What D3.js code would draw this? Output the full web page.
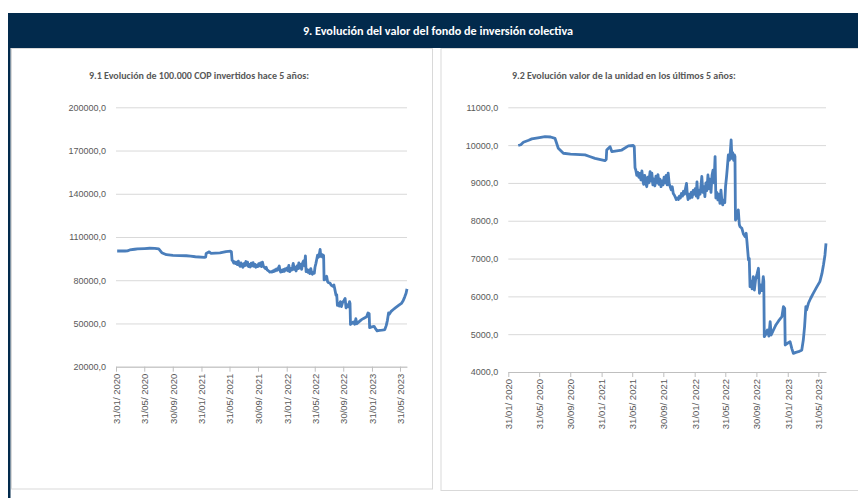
<!DOCTYPE html>
<html>
<head>
<meta charset="utf-8">
<script src="https://cdn.jsdelivr.net/npm/d3@7"></script>
<style>
  body { margin: 0; background: #fff; }
  svg { display: block; font-family: Carlito, Lato, "Open Sans", sans-serif; }
</style>
</head>
<body>
<svg id="lienzo" width="858" height="498"></svg>
<script>
// fechas de corte (comunes a las dos gráficas)
const fechas = [
    // 2020 - mayo 2021
    "2020-02-05", "2020-02-20", "2020-03-10", "2020-03-20", "2020-03-30", "2020-04-20", "2020-05-02", "2020-06-01",
    "2020-06-23", "2020-07-15", "2020-08-01", "2020-08-14", "2020-09-03", "2020-10-01", "2020-11-27", "2020-12-15",
    "2021-01-05", "2021-02-13", "2021-02-18", "2021-02-20", "2021-03-05", "2021-03-12", "2021-04-20", "2021-05-16",
    "2021-06-04", "2021-06-08",
    // junio 2021 - julio 2022
    "2021-06-11", "2021-06-14", "2021-06-18", "2021-06-22", "2021-06-26", "2021-06-30", "2021-07-04", "2021-07-08",
    "2021-07-12", "2021-07-15", "2021-07-19", "2021-07-23", "2021-07-27", "2021-07-31", "2021-08-04", "2021-08-09",
    "2021-08-13", "2021-08-16", "2021-08-20", "2021-08-24", "2021-08-28", "2021-09-01", "2021-09-05", "2021-09-09",
    "2021-09-13", "2021-09-17", "2021-09-21", "2021-09-25", "2021-09-29", "2021-10-03", "2021-10-07", "2021-10-11",
    "2021-10-15", "2021-10-19", "2021-10-23", "2021-10-27", "2021-10-31", "2021-11-04", "2021-11-08", "2021-11-12",
    "2021-11-16", "2021-11-20", "2021-11-24", "2021-11-28", "2021-12-02", "2021-12-06", "2021-12-10", "2021-12-14",
    "2021-12-18", "2021-12-22", "2021-12-26", "2021-12-30", "2022-01-02", "2022-01-05", "2022-01-09", "2022-01-13",
    "2022-01-17", "2022-01-21", "2022-01-25", "2022-01-29", "2022-02-02", "2022-02-06", "2022-02-09", "2022-02-13",
    "2022-02-17", "2022-02-21", "2022-02-25", "2022-02-28", "2022-03-04", "2022-03-08", "2022-03-12", "2022-03-16",
    "2022-03-20", "2022-03-24", "2022-03-28", "2022-04-01", "2022-04-05", "2022-04-09", "2022-04-13", "2022-04-17",
    "2022-04-21", "2022-04-24", "2022-04-28", "2022-05-02", "2022-05-06", "2022-05-10", "2022-05-14", "2022-05-18",
    "2022-05-21", "2022-05-25", "2022-05-29", "2022-06-01", "2022-06-05", "2022-06-08", "2022-06-12", "2022-06-16",
    "2022-06-19", "2022-06-23", "2022-06-26", "2022-06-29", "2022-07-03", "2022-07-06", "2022-07-08",
    // julio 2022 - junio 2023
    "2022-07-10", "2022-07-17", "2022-07-21", "2022-07-25", "2022-07-28", "2022-08-04", "2022-08-10", "2022-08-17",
    "2022-08-21", "2022-08-24", "2022-08-30", "2022-09-02", "2022-09-05", "2022-09-09", "2022-09-13", "2022-09-18",
    "2022-09-22", "2022-09-27", "2022-10-03", "2022-10-08", "2022-10-12", "2022-10-17", "2022-10-22", "2022-10-27",
    "2022-10-29", "2022-10-31", "2022-11-06", "2022-11-12", "2022-11-18", "2022-11-23", "2022-11-27", "2022-12-06",
    "2022-12-16", "2022-12-26", "2023-01-08", "2023-01-14", "2023-01-19", "2023-01-21", "2023-01-30", "2023-02-09",
    "2023-02-16", "2023-02-22", "2023-03-04", "2023-03-14", "2023-03-22", "2023-03-27", "2023-04-02", "2023-04-07",
    "2023-04-12", "2023-04-15", "2023-04-22", "2023-05-01", "2023-05-11", "2023-05-25", "2023-06-06", "2023-06-14",
    "2023-06-20", "2023-06-26", "2023-06-30"
];

// 9.1 evolución de 100.000 COP
const valorInversion = [
    100300, 100300, 100300, 100400, 101000, 101500, 101800, 102000,
    102200, 102100, 101700, 99100, 97700, 97300, 97000, 96700,
    96300, 95900, 96000, 98600, 99700, 98700, 99000, 99900,
    100200, 99800,

    94000, 93400, 92000, 92800, 91500, 92500, 90800, 93200,
    90500, 89600, 92000, 90000, 89000, 91500, 90000, 93000,
    90500, 92600, 89500, 91000, 89200, 91800, 90000, 92200,
    89600, 91000, 89000, 90500, 89500, 91500, 90000, 92000,
    89500, 92600, 89800, 89000, 88200, 89000, 87200, 86800,
    86200, 85600, 86000, 85600, 86500, 86000, 87200, 86500,
    87800, 87000, 88500, 89900, 87000, 85600, 87000, 86000,
    87500, 86200, 88000, 87000, 88500, 86500, 90300, 86000,
    88000, 87000, 89500, 91700, 87500, 89000, 86400, 90000,
    88000, 92100, 88500, 91000, 87500, 92000, 93400, 90000,
    96900, 86000, 87500, 85500, 87000, 84600, 88100, 85000,
    84200, 85500, 84800, 89000, 91700, 94000, 97400, 96000,
    97500, 101400, 96500, 98000, 96000, 97400, 97000,

    80200, 81000, 82800, 79000, 78400, 78000, 76500, 75800,
    76700, 74500, 69600, 70000, 62600, 64000, 62000, 65200,
    61700, 64500, 66000, 67400, 60800, 63000, 61500, 65200,
    64000, 49300, 50000, 51100, 49500, 53300, 49800, 51100,
    52500, 53500, 54600, 57300, 56800, 47100, 47600, 48000,
    46200, 44900, 45200, 45400, 45600, 45800, 48500, 52000,
    57300, 56400, 58200, 59500, 60800, 62500, 63900, 66000,
    68300, 71000, 74000
];

// 9.2 valor de la unidad
const valorUnidad = [
    null, null, 9990, 10010, 10075, 10130, 10165, 10200,
    10225, 10215, 10180, 9917, 9785, 9760, 9740, 9700,
    9650, 9590, 9620, 9870, 9960, 9830, 9870, 9980,
    9990, 9960,

    9400, 9343, 9200, 9280, 9150, 9250, 9080, 9320,
    9050, 8960, 9200, 9000, 8900, 9150, 9000, 9300,
    9050, 9260, 8950, 9100, 8920, 9180, 9000, 9220,
    8960, 9100, 8900, 9050, 8950, 9150, 9000, 9200,
    8950, 9260, 8980, 8900, 8820, 8900, 8720, 8680,
    8620, 8560, 8600, 8560, 8650, 8600, 8720, 8650,
    8780, 8700, 8850, 8990, 8700, 8560, 8700, 8600,
    8750, 8620, 8800, 8700, 8850, 8650, 9030, 8600,
    8800, 8700, 8950, 9170, 8750, 8900, 8640, 9000,
    8800, 9210, 8850, 9100, 8750, 9200, 9340, 9000,
    9695, 8600, 8750, 8550, 8700, 8460, 8810, 8500,
    8420, 8550, 8480, 8900, 9170, 9400, 9740, 9600,
    9750, 10136, 9650, 9800, 9600, 9740, 9700,

    8020, 8100, 8285, 7900, 7843, 7800, 7650, 7579,
    7668, 7450, 6962, 7000, 6256, 6400, 6200, 6521,
    6169, 6450, 6600, 6743, 6081, 6300, 6150, 6521,
    6400, 4934, 5000, 5111, 4950, 5330, 4979, 5111,
    5250, 5350, 5463, 5727, 5684, 4714, 4760, 4802,
    4620, 4493, 4520, 4537, 4560, 4582, 4846, 5200,
    5727, 5640, 5817, 5950, 6081, 6250, 6389, 6600,
    6830, 7095, 7404
];

const fechasEje = ["2020-01-31", "2020-05-31", "2020-09-30", "2021-01-31", "2021-05-31", "2021-09-30",
    "2022-01-31", "2022-05-31", "2022-09-30", "2023-01-31", "2023-05-31"];
const etiquetasEje = ["31/01/ 2020", "31/05/ 2020", "30/09/ 2020", "31/01/ 2021", "31/05/ 2021", "30/09/ 2021",
    "31/01/ 2022", "31/05/ 2022", "30/09/ 2022", "31/01/ 2023", "31/05/ 2023"];
const ticksInversion = [20000, 50000, 80000, 110000, 140000, 170000, 200000];
const ticksUnidad = [4000, 5000, 6000, 7000, 8000, 9000, 10000, 11000];

const parse = d3.timeParse("%Y-%m-%d");
const es = d3.formatLocale({ decimal: ",", thousands: ".", grouping: [3], currency: ["$", ""] });
const fmt = es.format(".1f");

const svg = d3.select("#lienzo");

// marco: banda azul + paneles
svg.append("rect").attr("x", 0).attr("y", 0).attr("width", 858).attr("height", 498).attr("fill", "#fff");
svg.append("rect")
    .attr("x", 11.5).attr("y", 48.5).attr("width", 421).attr("height", 440.5)
    .attr("fill", "#fff").attr("stroke", "#d9d9d9");
svg.append("rect")
    .attr("x", 441).attr("y", 48.5).attr("width", 430).attr("height", 442)
    .attr("fill", "#fff").attr("stroke", "#d9d9d9");
svg.append("rect").attr("x", 8).attr("y", 13).attr("width", 850).attr("height", 35).attr("fill", "#022a4c");
svg.append("rect").attr("x", 8).attr("y", 13).attr("width", 2.5).attr("height", 485).attr("fill", "#022a4c");
svg.append("text")
    .attr("x", 438).attr("y", 34.5)
    .attr("text-anchor", "middle")
    .attr("fill", "#fff")
    .attr("font-size", 12.2)
    .attr("font-weight", "bold")
    .text("9. Evolución del valor del fondo de inversión colectiva");

function drawChart(opts) {
    const x = d3.scaleTime()
        .domain([parse("2020-01-31"), parse("2023-06-30")])
        .range([opts.x0, opts.x1]);
    const y = d3.scaleLinear()
        .domain(d3.extent(opts.ticks))
        .range([opts.y1, opts.y0]);

    const g = svg.append("g");

    g.append("text")
        .attr("x", opts.titleX).attr("y", 79)
        .attr("fill", "#595959")
        .attr("font-size", 10)
        .attr("font-weight", "bold")
        .text(opts.title);

    // grid + etiquetas Y
    const gy = g.append("g")
        .attr("transform", `translate(${opts.x0},0)`)
        .call(d3.axisLeft(y).tickValues(opts.ticks).tickSize(-(opts.x1 - opts.x0)).tickPadding(10).tickFormat(fmt));
    gy.select(".domain").remove();
    gy.selectAll("line").attr("stroke", "#d9d9d9");
    gy.selectAll("text").attr("fill", "#595959").attr("font-size", 9).attr("font-family", null);

    // eje X
    const gx = g.append("g")
        .attr("transform", `translate(0,${opts.y1})`)
        .call(d3.axisBottom(x)
            .tickValues(fechasEje.map(parse))
            .tickSize(5)
            .tickSizeOuter(0)
            .tickFormat((d, i) => etiquetasEje[i]));
    gx.select(".domain").attr("stroke", "#bfbfbf");
    gx.selectAll("line").attr("stroke", "#bfbfbf");
    gx.selectAll("text")
        .attr("fill", "#595959")
        .attr("font-size", 9.5)
        .attr("font-family", null)
        .attr("text-anchor", "end")
        .attr("transform", "rotate(-90)")
        .attr("x", -7)
        .attr("y", 0)
        .attr("dy", "0.35em");

    const puntos = fechas.map((f, i) => ({ f: parse(f), v: opts.values[i] }));
    const line = d3.line()
        .defined(d => d.v != null)
        .x(d => x(d.f))
        .y(d => y(d.v));

    g.append("path")
        .datum(puntos)
        .attr("fill", "none")
        .attr("stroke", "#4a7ebb")
        .attr("stroke-width", 2.8)
        .attr("stroke-linejoin", "round")
        .attr("d", line);
}

drawChart({
    x0: 116, x1: 407, y0: 107.3, y1: 366.7,
    ticks: ticksInversion, values: valorInversion,
    titleX: 89, title: "9.1 Evolución de 100.000 COP invertidos hace 5 años:"
});

drawChart({
    x0: 508.3, x1: 826, y0: 107.3, y1: 372,
    ticks: ticksUnidad, values: valorUnidad,
    titleX: 512, title: "9.2 Evolución valor de la unidad en los últimos 5 años:"
});
</script>
</body>
</html>
